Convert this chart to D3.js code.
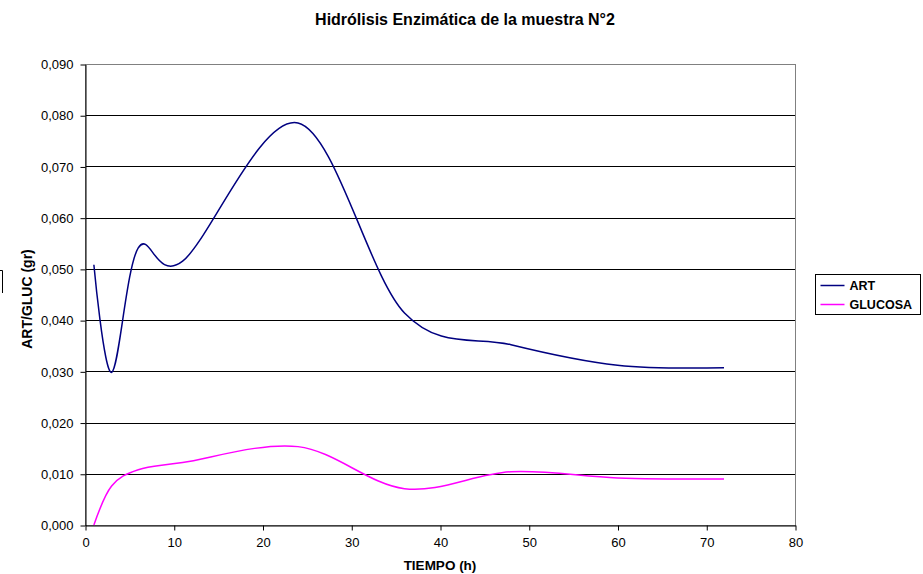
<!DOCTYPE html>
<html>
<head>
<meta charset="utf-8">
<script src="https://cdn.jsdelivr.net/npm/d3@7"></script>
<style>
  body { margin: 0; background: #fff; }
  text { font-family: "Liberation Sans", Arial, sans-serif; }
</style>
</head>
<body>
<div id="chart"></div>
<script>
const tiempo = [1, 3, 6, 11, 24, 36, 48, 60, 72];
const art = [0.0508, 0.0298, 0.0541, 0.0515, 0.0785, 0.0414, 0.0352, 0.0312, 0.0307];
const glucosa = [0.0000, 0.0076, 0.0108, 0.0122, 0.0153, 0.0071, 0.0104, 0.0092, 0.0090];
const yTicks = [0, 0.01, 0.02, 0.03, 0.04, 0.05, 0.06, 0.07, 0.08, 0.09];
const xTicks = [0, 10, 20, 30, 40, 50, 60, 70, 80];
const seriesNames = ["ART", "GLUCOSA"];
const seriesColours = ["#000080", "#FF00FF"];

const width = 923, height = 574;
const margin = { top: 64, right: 128, bottom: 49, left: 85 };
const plotW = width - margin.left - margin.right;
const plotH = height - margin.top - margin.bottom;

let svg = d3.select("#chart")
    .append("svg")
    .attr("width", width)
    .attr("height", height);

let x = d3.scaleLinear().domain([0, 80]).range([margin.left, margin.left + plotW]);
let y = d3.scaleLinear().domain([0, 0.09]).range([margin.top + plotH, margin.top]);

const fmt = (v) => d3.format(".3f")(v).replace(".", ",");

// title
svg.append("text")
    .attr("x", 465)
    .attr("y", 25)
    .attr("text-anchor", "middle")
    .style("font-size", "16px")
    .style("font-weight", "bold")
    .text("Hidrólisis Enzimática de la muestra N°2");

// gridlines
svg.append("g")
    .selectAll("line")
    .data(yTicks.slice(1, -1))
    .enter()
    .append("line")
    .attr("x1", x(0))
    .attr("x2", x(80))
    .attr("y1", (d) => Math.round(y(d)) + 0.5)
    .attr("y2", (d) => Math.round(y(d)) + 0.5)
    .attr("stroke", "#000")
    .attr("stroke-width", 1);

// plot border (top / right in grey)
svg.append("rect")
    .attr("x", x(0) + 0.5)
    .attr("y", Math.round(y(0.09)) + 0.5)
    .attr("width", plotW)
    .attr("height", Math.round(y(0)) - Math.round(y(0.09)))
    .attr("fill", "none")
    .attr("stroke", "#808080");

// axes
let yAxis = svg.append("g")
    .attr("transform", `translate(${x(0) + 0.5},0.5)`)
    .call(d3.axisLeft(y).tickValues(yTicks).tickFormat(fmt).tickSize(5).tickSizeOuter(0));
let xAxis = svg.append("g")
    .attr("transform", `translate(0.5,${Math.round(y(0)) + 0.5})`)
    .call(d3.axisBottom(x).tickValues(xTicks).tickSize(5).tickSizeOuter(0));

[yAxis, xAxis].forEach((ax) => {
    ax.select(".domain").attr("stroke", "#000");
    ax.selectAll(".tick line").attr("stroke", "#000");
    ax.selectAll(".tick text")
        .style("font-family", "'Liberation Sans', Arial, sans-serif")
        .style("font-size", "13px")
        .attr("fill", "#000");
});
yAxis.selectAll(".tick text").attr("x", -12);
xAxis.selectAll(".tick text").attr("y", 12);

// axis titles
svg.append("text")
    .attr("x", 440)
    .attr("y", 570)
    .attr("text-anchor", "middle")
    .style("font-size", "13.5px")
    .style("font-weight", "bold")
    .text("TIEMPO (h)");

svg.append("text")
    .attr("transform", "translate(32,299) rotate(-90)")
    .attr("text-anchor", "middle")
    .style("font-size", "14px")
    .style("font-weight", "bold")
    .text("ART/GLUC (gr)");

// stray mark at the left edge
svg.append("path")
    .attr("d", "M0,270.5H2.5V293")
    .attr("fill", "none")
    .attr("stroke", "#000");

// series (Excel-like smoothing = uniform Catmull-Rom)
let line = d3.line()
    .x((d) => x(d[0]))
    .y((d) => y(d[1]))
    .curve(d3.curveCardinal.tension(0));

[art, glucosa].forEach((vals, i) => {
    svg.append("path")
        .datum(tiempo.map((t, j) => [t, vals[j]]))
        .attr("d", line)
        .attr("fill", "none")
        .attr("stroke", seriesColours[i])
        .attr("stroke-width", 1.5);
});

// legend
let legend = svg.append("g").attr("transform", "translate(815.5,274.5)");
legend.append("rect")
    .attr("width", 105)
    .attr("height", 40)
    .attr("fill", "#fff")
    .attr("stroke", "#000");
let items = legend.selectAll(".item")
    .data(seriesNames)
    .enter()
    .append("g")
    .attr("transform", (d, i) => `translate(0,${11 + i * 19})`);
items.append("line")
    .attr("x1", 5)
    .attr("x2", 29)
    .attr("stroke", (d, i) => seriesColours[i])
    .attr("stroke-width", 1.5);
items.append("text")
    .attr("x", 34)
    .attr("y", 4.5)
    .style("font-size", "12.5px")
    .style("font-weight", "bold")
    .text((d) => d);
</script>
</body>
</html>
